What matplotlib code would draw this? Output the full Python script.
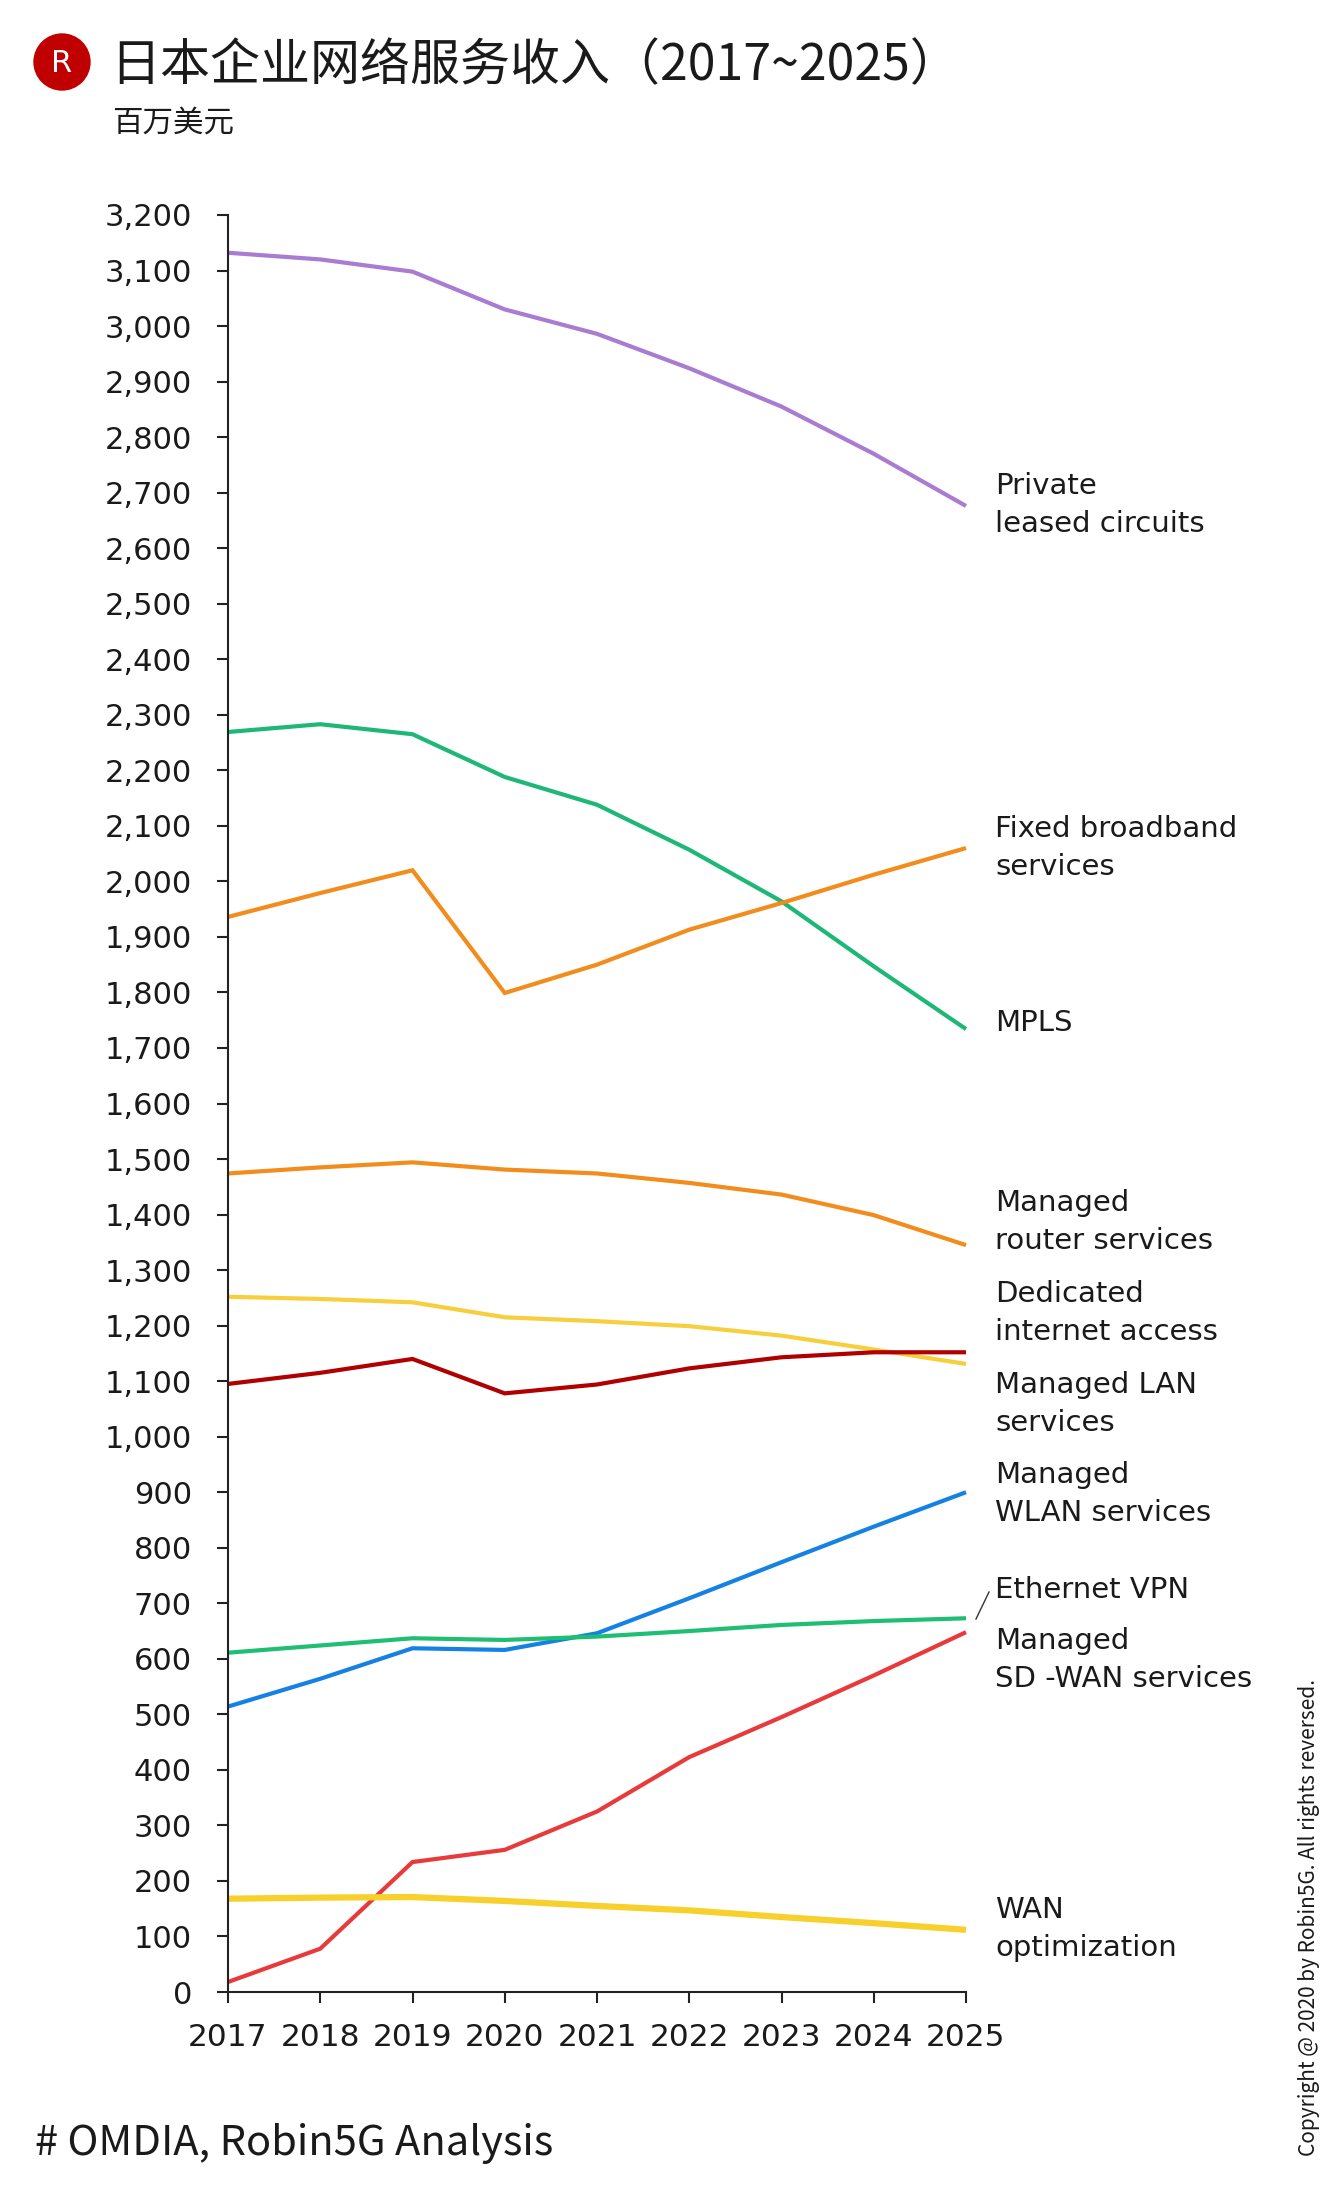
import matplotlib
matplotlib.use("Agg")
import matplotlib.pyplot as plt
from matplotlib.patches import Ellipse
from matplotlib.lines import Line2D
from matplotlib.ticker import FuncFormatter, MultipleLocator

# ------------------------------------------------------------------
# Datos (millones de USD)
# ------------------------------------------------------------------
years = [2017, 2018, 2019, 2020, 2021, 2022, 2023, 2024, 2025]

private_leased = [3132, 3120, 3098, 3030, 2986, 2924, 2855, 2770, 2676]
mpls = [2269, 2283, 2265, 2188, 2138, 2057, 1964, 1847, 1734]
fixed_broadband = [1936, 1979, 2020, 1799, 1850, 1913, 1961, 2012, 2060]
managed_router = [1474, 1485, 1494, 1481, 1474, 1457, 1436, 1399, 1345]
dedicated_internet = [1252, 1248, 1242, 1215, 1208, 1199, 1182, 1157, 1131]
managed_lan = [1095, 1115, 1140, 1078, 1094, 1123, 1143, 1152, 1152]
managed_wlan = [514, 564, 619, 616, 646, 709, 774, 838, 900]
ethernet_vpn = [611, 624, 637, 634, 640, 650, 661, 668, 673]
sd_wan = [18, 78, 234, 256, 325, 423, 495, 570, 648]
wan_optimization = [168, 170, 171, 164, 155, 147, 135, 124, 112]

series = [
    ("Private\nleased circuits", private_leased, "#A97BD1", 3.0),
    ("MPLS", mpls, "#1DB777", 3.0),
    ("Fixed broadband\nservices", fixed_broadband, "#F28C1C", 3.0),
    ("Managed\nrouter services", managed_router, "#F28C1C", 3.0),
    ("Dedicated\ninternet access", dedicated_internet, "#F7CF3C", 3.0),
    ("Managed LAN\nservices", managed_lan, "#B00000", 3.0),
    ("Managed\nWLAN services", managed_wlan, "#1582E3", 3.0),
    ("Ethernet VPN", ethernet_vpn, "#1EBE73", 3.0),
    ("Managed\nSD -WAN services", sd_wan, "#E83A3A", 3.0),
    ("WAN\noptimization", wan_optimization, "#F7D02C", 4.5),
]

# posición vertical (px desde arriba) de cada etiqueta a la derecha
label_y_px = {
    "Private\nleased circuits": 505,
    "Fixed broadband\nservices": 848,
    "MPLS": 1023,
    "Managed\nrouter services": 1222,
    "Dedicated\ninternet access": 1313,
    "Managed LAN\nservices": 1404,
    "Managed\nWLAN services": 1494,
    "Ethernet VPN": 1590,
    "Managed\nSD -WAN services": 1660,
    "WAN\noptimization": 1929,
}

W, H = 1339, 2200
fig = plt.figure(figsize=(W / 100, H / 100), dpi=100)
fig.patch.set_facecolor("white")

ax = fig.add_axes([228 / W, 1 - 1992 / H, (966 - 228) / W, (1992 - 215) / H])

for name, values, color, lw in series:
    ax.plot(years, values, color=color, linewidth=lw, solid_capstyle="butt",
            solid_joinstyle="miter", clip_on=False)

ax.set_xlim(2017, 2025)
ax.set_ylim(0, 3200)
ax.yaxis.set_major_locator(MultipleLocator(100))
ax.yaxis.set_major_formatter(FuncFormatter(lambda v, p: f"{int(v):,}"))
ax.set_xticks(years)

for side in ("top", "right"):
    ax.spines[side].set_visible(False)
for side in ("left", "bottom"):
    ax.spines[side].set_linewidth(1.5)
    ax.spines[side].set_color("#222222")

ax.tick_params(axis="y", direction="out", length=8, width=1.5, pad=18,
               labelsize=22, colors="#222222")
ax.tick_params(axis="x", direction="out", length=8, width=1.5, pad=14,
               labelsize=22.5, colors="#222222")
for lab in ax.get_xticklabels() + ax.get_yticklabels():
    lab.set_fontfamily("DejaVu Sans")
    lab.set_color("#1a1a1a")

# etiquetas de series
for name, values, color, lw in series:
    fig.text(995 / W, 1 - label_y_px[name] / H, name, ha="left", va="center",
             fontsize=21, family="DejaVu Sans", color="#1a1a1a",
             linespacing=1.45)

# pequeña línea guía para Ethernet VPN
fig.add_artist(Line2D([976 / W, 989 / W], [1 - 1619 / H, 1 - 1592 / H],
                      transform=fig.transFigure, color="#333333", linewidth=1))

# logo
fig.add_artist(Ellipse((62 / W, 1 - 62 / H), 56 / W, 56 / H,
                       transform=fig.transFigure, color="#C00000"))
fig.text(62 / W, 1 - 63 / H, "R", ha="center", va="center", color="white",
         fontsize=22, family="DejaVu Sans")

# título
cjk = ["Noto Sans CJK SC", "DejaVu Sans"]
fig.text(110 / W, 1 - 66 / H, "日本企业网络服务收入（2017~2025）", ha="left",
         va="center", fontsize=36, family=cjk, color="#1a1a1a")
fig.text(112 / W, 1 - 123 / H, "百万美元", ha="left", va="center",
         fontsize=22, family=cjk, color="#1a1a1a")

# fuente y copyright
fig.text(35 / W, 1 - 2143 / H, "# OMDIA, Robin5G Analysis", ha="left",
         va="center", fontsize=30, family=cjk, color="#1a1a1a")
fig.text(1309 / W, 1 - 2156 / H, "Copyright @ 2020 by Robin5G. All rights reversed.",
         ha="center", va="bottom", rotation=90, fontsize=15, family=cjk,
         color="#1a1a1a")

fig.savefig("out.png", dpi=100, facecolor="white")
